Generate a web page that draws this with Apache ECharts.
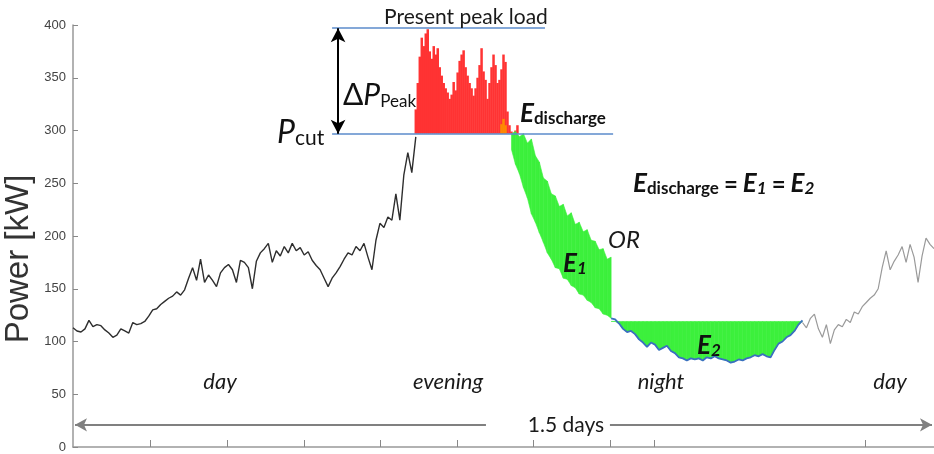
<!DOCTYPE html>
<html>
<head>
<meta charset="utf-8">
<script src="https://cdn.jsdelivr.net/npm/echarts@6/dist/echarts.min.js"></script>
</head>
<body style="margin:0">
<div id="container" style="width:934px;height:454px"></div>
<script>
// time axis in minutes, 1.5 days = 2160 min, one sample every 10 min
var STEP = 10;
var X_MAX = 2160;
var xTickMinutes = [193, 386, 580, 770, 963, 1154, 1347, 1458, 1987];
var yMin = 0, yMax = 400, yStep = 50;

var pCut = 297;
var pPeak = 397;

// daytime load, samples 0..86
var dayLoad = [113,110,109,112,120,114,116,115,111,108,
  104,106,112,110,108,118,116,117,119,124,
  130,131,135,138,141,143,147,144,149,160,
  170,158,178,156,163,158,152,165,170,173,
  168,156,177,175,170,150,176,184,188,193,
  175,186,181,190,184,193,186,189,182,185,
  177,172,168,160,152,160,165,171,178,184,
  182,190,186,193,180,168,196,212,208,218,
  215,240,215,258,279,260,294];

// evening peak above P_cut, one bar every 5 min from 860 min
var peakStart = 860, PEAK_STEP = 5;
var peakLoad = [320,345,370,388,380,392,396,375,368,380,
  372,378,360,352,345,340,336,330,334,346,
  338,355,366,372,376,360,352,345,340,333,
  340,350,362,378,356,348,330,345,360,372,
  362,345,348,358,372,365,318,305,299,297,
  300,305];
var orangeStart = 43;
var orangeLoad = [306,311,305];

// E1: shifted load band, samples 110..135
var e1Start = 110;
var e1Upper = [297,299,294,297,288,292,276,270,255,252,240,238,228,230,219,222,211,213,204,206,196,195,187,188,178,180];
var e1Lower = [282,268,259,246,236,221,213,203,194,184,178,170,169,160,159,153,151,145,144,139,137,132,131,126,125,122];

// night load, samples 135..183, E2 filled up to nightFill
var nightStart = 135;
var nightFill = 119;
var nightLoad = [122,121,117,112,109,110,107,102,99,95,
  99,97,92,94,96,91,89,85,84,82,
  84,83,84,82,85,84,86,84,83,82,
  80,81,83,82,84,85,87,86,88,86,
  85,92,98,100,104,106,110,116,120];

// next day, samples 183..216
var nextStart = 183;
var nextLoad = [118,113,122,126,112,104,116,98,111,116,
  114,121,118,128,126,133,137,141,144,150,
  170,186,168,176,182,190,175,192,180,156,
  181,198,192,188];

var RED = '#ff3333', ORANGE = '#ff8a00', GREEN = '#3cf03c';

function pts(start, arr, step) {
  return arr.map(function (v, k) { return [(start + k) * step, v]; });
}

// bars from P_cut up to the load
function peakBars(color) {
  return function (params, api) {
    var x = api.value(0), v = api.value(1);
    var top = api.coord([x, v]);
    var bot = api.coord([x, pCut]);
    var w = api.size([PEAK_STEP, 0])[0] + 0.5;
    return { type: 'rect', shape: { x: top[0] - w / 2, y: top[1], width: w, height: bot[1] - top[1] },
      style: { fill: color } };
  };
}

// filled band between two curves, one quad per step
function band(lo, hi) {
  return function (params, api) {
    var k = params.dataIndex;
    if (k >= lo.length - 1) return null;
    var x0 = api.value(0), x1 = x0 + STEP;
    var l0 = Math.min(lo[k], hi[k]), l1 = Math.min(lo[k + 1], hi[k + 1]);
    return { type: 'polygon',
      shape: { points: [api.coord([x0, l0]), api.coord([x0, hi[k]]), api.coord([x1, hi[k + 1]]), api.coord([x1, l1])] },
      style: { fill: GREEN, stroke: GREEN, lineWidth: 0.6 } };
  };
}

var FONT = 'Lato';
var E = { fontFamily: FONT, fontSize: 26, fontStyle: 'italic', fontWeight: 'bold', lineHeight: 30, verticalAlign: 'bottom', fill: '#111' };
var sub = { fontFamily: FONT, fontSize: 17, fontWeight: 'bold', lineHeight: 12, verticalAlign: 'bottom', fill: '#111' };
var subI = { fontFamily: FONT, fontSize: 17, fontStyle: 'italic', fontWeight: 'bold', lineHeight: 12, verticalAlign: 'bottom', fill: '#111' };
var eq = { fontFamily: FONT, fontSize: 24, fontWeight: 'bold', lineHeight: 30, verticalAlign: 'bottom', fill: '#111', padding: [0, 5, 0, 5] };

function txt(x, y, text, font, align) {
  return { type: 'text', x: x, y: y, z: 100, silent: true,
    style: { text: text, font: font, fill: '#1a1a1a', align: align || 'center', verticalAlign: 'middle' } };
}
function rich(x, y, text, styles) {
  return { type: 'text', x: x, y: y, z: 100, silent: true,
    style: { text: text, rich: styles, align: 'left', verticalAlign: 'middle' } };
}

var dom = document.getElementById('container');
var myChart = echarts.init(dom, null, { renderer: 'canvas' });

var fillLevel = nightLoad.map(function () { return nightFill; });

var option = {
  animation: false,
  backgroundColor: '#fff',
  grid: { left: 73, right: 0, top: 25, bottom: 7 },
  xAxis: {
    type: 'value', min: 0, max: X_MAX,
    axisLine: { lineStyle: { color: '#999', width: 1.5 } },
    axisTick: { inside: true, length: 7, customValues: xTickMinutes, lineStyle: { color: '#888' } },
    axisLabel: { show: false },
    splitLine: { show: false }
  },
  yAxis: {
    type: 'value', min: yMin, max: yMax, interval: yStep,
    axisLine: { show: true, lineStyle: { color: '#999', width: 1.5 } },
    axisTick: { show: true, inside: true, length: 5, lineStyle: { color: '#888' } },
    axisLabel: { color: '#444', fontFamily: 'Liberation Sans', fontSize: 13, margin: 7 },
    splitLine: { show: false }
  },
  series: [
    {
      name: 'day', type: 'line', data: pts(0, dayLoad, STEP), symbol: 'none',
      lineStyle: { color: '#2e2e2e', width: 1.4 }, z: 3,
      markLine: {
        silent: true, symbol: 'none', label: { show: false },
        data: [
          [{ coord: [650, pPeak], lineStyle: { color: '#5b8bcb', width: 1.5, type: 'solid' } }, { coord: [1184, pPeak] }],
          [{ coord: [650, pCut], lineStyle: { color: '#5b8bcb', width: 1.5, type: 'solid' } }, { coord: [1355, pCut] }],
          [{ coord: [665, pPeak], symbol: 'arrow', symbolSize: [11, 14], lineStyle: { color: '#000', width: 2, type: 'solid' } },
           { coord: [665, pCut], symbol: 'arrow', symbolSize: [11, 14] }],
          [{ coord: [1036, 21], symbol: 'none', lineStyle: { color: '#808080', width: 2, type: 'solid' } },
           { coord: [5, 21], symbol: 'arrow', symbolSize: [10, 12] }],
          [{ coord: [1347, 21], symbol: 'none', lineStyle: { color: '#808080', width: 2, type: 'solid' } },
           { coord: [2155, 21], symbol: 'arrow', symbolSize: [10, 12] }]
        ]
      }
    },
    {
      name: 'peak', type: 'custom', renderItem: peakBars(RED), z: 2,
      data: pts(0, peakLoad, PEAK_STEP).map(function (p) { return [peakStart + p[0], p[1]]; })
    },
    {
      name: 'orange', type: 'custom', renderItem: peakBars(ORANGE), z: 3,
      data: orangeLoad.map(function (v, k) { return [peakStart + (orangeStart + k) * PEAK_STEP, v]; })
    },
    {
      name: 'E1', type: 'custom', renderItem: band(e1Lower, e1Upper), z: 2,
      data: pts(e1Start, e1Upper, STEP)
    },
    {
      name: 'E2', type: 'custom', renderItem: band(nightLoad, fillLevel), z: 2,
      data: pts(nightStart, nightLoad, STEP)
    },
    {
      name: 'night', type: 'line', symbol: 'none',
      data: pts(nightStart, nightLoad, STEP), lineStyle: { color: '#3a6fc0', width: 1.8 }, z: 4
    },
    {
      name: 'next', type: 'line', symbol: 'none',
      data: pts(nextStart, nextLoad, STEP), lineStyle: { color: '#9a9a9a', width: 1.2 }
    }
  ],
  graphic: [
    { type: 'text', x: 19, y: 259, z: 100, rotation: Math.PI / 2, silent: true,
      style: { text: 'Power [kW]', font: '33px "Liberation Sans"', fill: '#333', align: 'center', verticalAlign: 'middle' } },
    txt(466, 17, 'Present peak load', '21px Lato'),
    rich(343, 93, '{d|Δ}{p|P}{s|Peak}', {
      d: { fontFamily: FONT, fontSize: 30, lineHeight: 34, verticalAlign: 'bottom', fill: '#111' },
      p: { fontFamily: FONT, fontSize: 30, fontStyle: 'italic', lineHeight: 34, verticalAlign: 'bottom', fill: '#111' },
      s: { fontFamily: FONT, fontSize: 17, lineHeight: 14, verticalAlign: 'bottom', fill: '#111' }
    }),
    rich(277, 131, '{p|P}{s|cut}', {
      p: { fontFamily: FONT, fontSize: 32, fontStyle: 'italic', lineHeight: 36, verticalAlign: 'bottom', fill: '#111' },
      s: { fontFamily: FONT, fontSize: 21, lineHeight: 14, verticalAlign: 'bottom', fill: '#111' }
    }),
    rich(520, 112, '{e|E}{s|discharge}', { e: E, s: sub }),
    rich(633, 182, '{e|E}{s|discharge}{q|=}{e|E}{n|1}{q|=}{e|E}{n|2}', { e: E, s: sub, q: eq, n: subI }),
    txt(624, 240, 'OR', 'italic 24px Lato'),
    rich(563, 262, '{e|E}{n|1}', { e: E, n: subI }),
    rich(697, 344, '{e|E}{n|2}', { e: E, n: subI }),
    txt(220, 382, 'day', 'italic 22px Lato'),
    txt(448, 382, 'evening', 'italic 22px Lato'),
    txt(661, 382, 'night', 'italic 22px Lato'),
    txt(890, 382, 'day', 'italic 22px Lato'),
    txt(566, 425, '1.5 days', '21px Lato')
  ]
};

myChart.setOption(option);
window.addEventListener('resize', myChart.resize);
</script>
</body>
</html>
